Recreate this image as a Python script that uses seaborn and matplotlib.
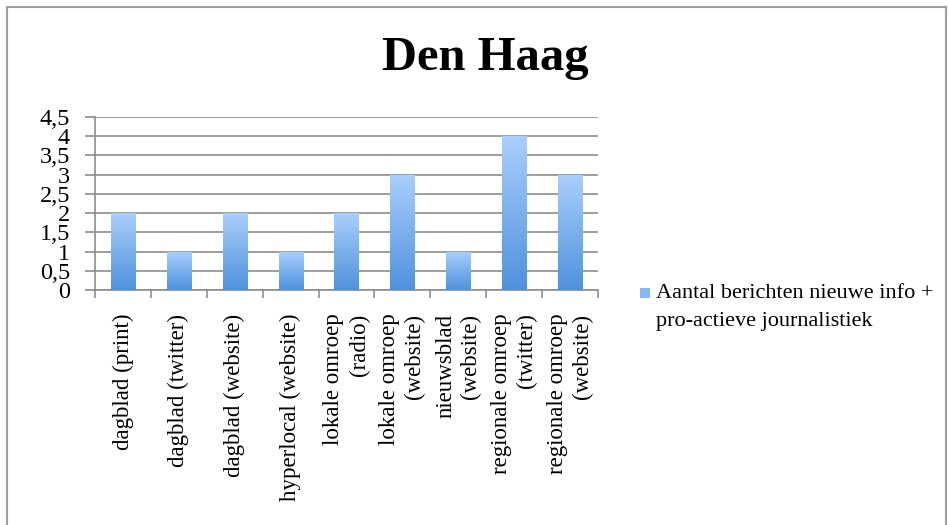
import numpy as np
import pandas as pd
import seaborn as sns
import matplotlib.pyplot as plt
from matplotlib.patches import Rectangle
from matplotlib.lines import Line2D
from matplotlib.colors import LinearSegmentedColormap

categories = ['dagblad (print)', 'dagblad (twitter)', 'dagblad (website)',
              'hyperlocal (website)', 'lokale omroep\n(radio)', 'lokale omroep\n(website)',
              'nieuwsblad\n(website)', 'regionale omroep\n(twitter)', 'regionale omroep\n(website)']
values = [2, 1, 2, 1, 2, 3, 1, 4, 3]
series_name = 'Aantal berichten nieuwe info +\npro-actieve journalistiek'
yticks = [0, 0.5, 1, 1.5, 2, 2.5, 3, 3.5, 4, 4.5]
ytick_labels = ['0', '0,5', '1', '1,5', '2', '2,5', '3', '3,5', '4', '4,5']

sns.set_style('white')
plt.rcParams['font.family'] = ['Liberation Serif', 'DejaVu Serif']
plt.rcParams['text.color'] = 'black'
plt.rcParams['xtick.color'] = 'black'
plt.rcParams['ytick.color'] = 'black'

df = pd.DataFrame({'cat': categories, 'val': values})

fig = plt.figure(figsize=(9.49, 5.25), dpi=100)
ax = fig.add_axes([95/949, 1-290/525, 503/949, 173/525])

sns.barplot(data=df, x='cat', y='val', color='#7fb2ec', width=0.43, ax=ax, zorder=3)

# gradient fill on each bar
cmap = LinearSegmentedColormap.from_list('g', ['#4f92dc', '#aacffd'])
grad = np.linspace(0, 1, 256).reshape(-1, 1)
for p in ax.patches:
    x0, y0 = p.get_x(), p.get_y()
    w, h = p.get_width(), p.get_height()
    im = ax.imshow(grad, cmap=cmap, origin='lower', aspect='auto',
                   extent=[x0, x0 + w, y0, y0 + h], zorder=4)
    im.set_clip_path(p)
    p.set_edgecolor('none')

n = len(categories)
ax.set_xlim(-0.5, n - 0.5)
ax.set_ylim(0, 4.5)
ax.set_yticks(yticks)
ax.set_yticklabels(ytick_labels, fontsize=17.5)
ax.set_xlabel('')
ax.set_ylabel('')
ax.set_xticks(range(n))
ax.set_xticklabels(categories, rotation=90, fontsize=16.5, va='top', ha='center',
                   multialignment='right', linespacing=1.25)
ax.set_xticks(np.arange(-0.5, n, 1), minor=True)
ax.tick_params(axis='x', which='major', length=0, pad=17)
ax.tick_params(axis='x', which='minor', length=6, color='#8c8c8c', width=1.2, bottom=True)
ax.tick_params(axis='y', length=7, color='#8c8c8c', width=1.2, left=True, pad=11)
ax.yaxis.grid(True, color='#8c8c8c', linewidth=1.2, zorder=0)
ax.set_axisbelow(True)
for s in ['top', 'right']:
    ax.spines[s].set_visible(False)
for s in ['left', 'bottom']:
    ax.spines[s].set_color('#8c8c8c')
    ax.spines[s].set_linewidth(1.2)

fig.text(485/949, 1-58/525, 'Den Haag', fontsize=35, fontweight='bold',
         ha='center', va='center')

# legend: small square + two-line label
fig.add_artist(Rectangle((640/949, 1-298/525), 10/949, 10/525,
                         facecolor='#86b8ef', edgecolor='none'))
fig.text(656/949, 1-284/525, series_name, fontsize=16, ha='left', va='top',
         linespacing=1.65)

# outer frame of the chart
fig.add_artist(Line2D([7/949, 946/949], [1-7/525, 1-7/525], color='#a0a0a0', lw=1.5))
fig.add_artist(Line2D([7/949, 7/949], [0, 1-7/525], color='#a0a0a0', lw=1.5))
fig.add_artist(Line2D([946/949, 946/949], [0, 1-7/525], color='#a0a0a0', lw=1.5))

fig.savefig('out.png', dpi=100)
